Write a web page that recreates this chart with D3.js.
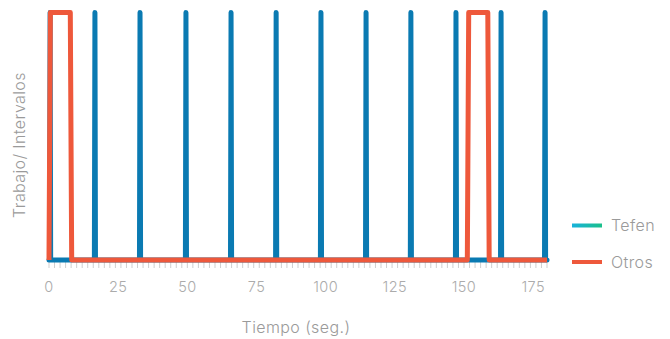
<!DOCTYPE html>
<html>
<head>
<meta charset="utf-8">
<script src="https://cdn.jsdelivr.net/npm/d3@7"></script>
<style>
  body { margin: 0; background: #fff; }
  text { font-family: Inter, "Open Sans", sans-serif; font-weight: 300; letter-spacing: 0.4px; }
</style>
</head>
<body>
<div id="chart"></div>
<script>
// Tefen: instants (seg.) where the interval spike peaks
var tefenSpikes = [0.4, 16.6, 32.9, 49.5, 65.8, 82.1, 98.3, 114.6, 130.8, 147.1, 163.4, 179.3];
// Otros: step series, time and value
var otrosTime = [0, 0.5, 7.7, 8.2, 151.2, 151.7, 158.6, 159.1, 180];
var otrosValue = [0, 1, 1, 0, 0, 1, 1, 0, 0];
var xTicks = [0, 25, 50, 75, 100, 125, 150, 175];
var seriesNames = ['Tefen', 'Otros'];

var width = 670,
    height = 339;

var x = d3.scaleLinear().domain([0, 180]).range([49, 547]);
var y = d3.scaleLinear().domain([0, 1]).range([260, 12.5]);

var svg = d3.select('#chart').append('svg')
    .attr('width', width)
    .attr('height', height);

var defs = svg.append('defs');
var grad = defs.append('linearGradient').attr('id', 'tefenGrad')
    .attr('gradientUnits', 'userSpaceOnUse')
    .attr('x1', 0).attr('x2', 30).attr('y1', 0).attr('y2', 0);
grad.append('stop').attr('offset', '0%').attr('stop-color', '#18b2dc');
grad.append('stop').attr('offset', '100%').attr('stop-color', '#1bc08a');

// minor ticks every 2 seconds
var minor = d3.range(0, 181, 2);
svg.append('g').selectAll('line')
    .data(minor)
    .enter().append('line')
    .attr('x1', function (d) { return x(d); })
    .attr('x2', function (d) { return x(d); })
    .attr('y1', 262)
    .attr('y2', 268)
    .attr('stroke', '#cfcfcf')
    .attr('stroke-width', 1);

svg.append('g').selectAll('text')
    .data(xTicks)
    .enter().append('text')
    .attr('x', function (d) { return x(d); })
    .attr('y', 292)
    .attr('text-anchor', 'middle')
    .attr('font-size', 14.5)
    .attr('fill', '#ababab')
    .text(function (d) { return d; });

// build tefen polyline from spike instants
var tefenPts = [[0, 0]];
tefenSpikes.forEach(function (t) {
    tefenPts.push([Math.max(0, t - 0.2), 0], [t, 1], [Math.min(180, t + 0.2), 0]);
});
tefenPts.push([180, 0]);

var otrosPts = otrosTime.map(function (t, i) { return [t, otrosValue[i]]; });

var line = d3.line()
    .x(function (d) { return x(d[0]); })
    .y(function (d) { return y(d[1]); });

svg.append('path')
    .datum(tefenPts)
    .attr('d', line)
    .attr('fill', 'none')
    .attr('stroke', '#0a7ab2')
    .attr('stroke-width', 5)
    .attr('stroke-linejoin', 'round')
    .attr('stroke-linecap', 'round');

svg.append('path')
    .datum(otrosPts)
    .attr('d', line)
    .attr('fill', 'none')
    .attr('stroke', '#ee583b')
    .attr('stroke-width', 5)
    .attr('stroke-linejoin', 'round')
    .attr('stroke-linecap', 'butt');

svg.append('text')
    .attr('x', 296)
    .attr('y', 333)
    .attr('text-anchor', 'middle')
    .attr('font-size', 16)
    .attr('fill', '#9a9a9a')
    .text('Tiempo (seg.)');

svg.append('text')
    .attr('transform', 'translate(25,145) rotate(-90)')
    .attr('text-anchor', 'middle')
    .attr('font-size', 16)
    .attr('fill', '#9a9a9a')
    .text('Trabajo/ Intervalos');

var legend = svg.append('g').selectAll('g')
    .data(seriesNames)
    .enter().append('g')
    .attr('transform', function (d, i) { return 'translate(572,' + (225.5 + i * 36.5) + ')'; });

legend.append('line')
    .attr('x1', 0).attr('x2', 30)
    .attr('stroke', function (d, i) { return i === 0 ? 'url(#tefenGrad)' : '#ee583b'; })
    .attr('stroke-width', 4);

legend.append('text')
    .attr('x', 39)
    .attr('dy', '0.35em')
    .attr('font-size', 16)
    .attr('fill', '#9a9a9a')
    .text(function (d) { return d; });
</script>
</body>
</html>
